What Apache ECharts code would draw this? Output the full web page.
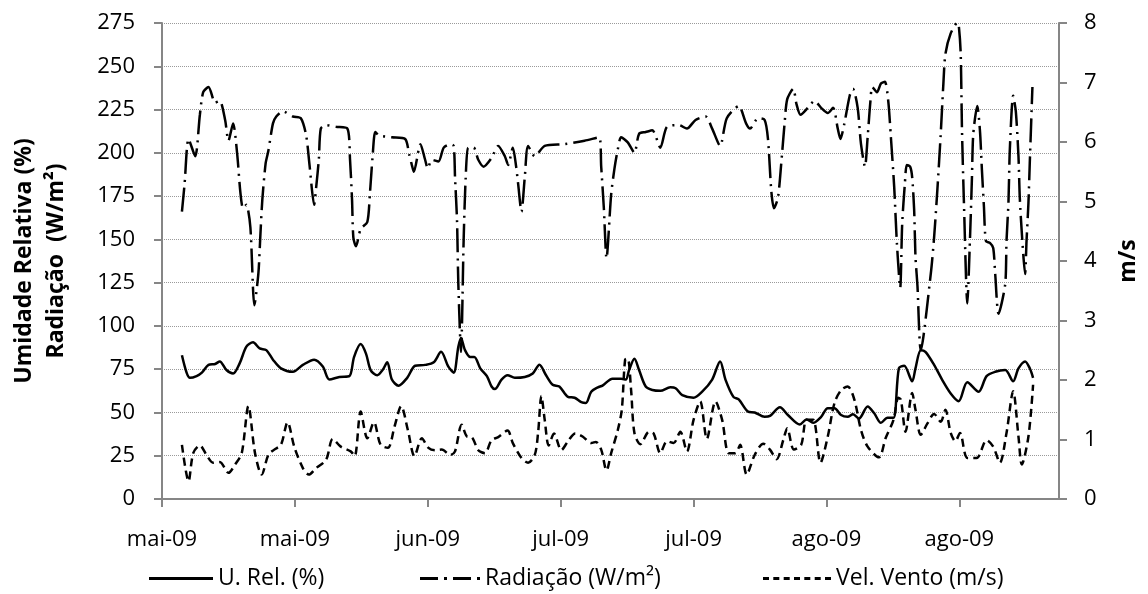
<!DOCTYPE html>
<html>
<head>
<meta charset="utf-8">
<script src="https://cdn.jsdelivr.net/npm/echarts@6/dist/echarts.min.js"></script>
<style>
html,body{margin:0;padding:0;background:#fff;}
#chart{width:1148px;height:594px;}
</style>
</head>
<body>
<div id="chart"></div>
<script>
// x values: days counted from 2 May 2009 (axis start)
const tickDays = [0, 20, 40, 60, 80, 100, 120];
const tickLabels = ['mai-09', 'mai-09', 'jun-09', 'jul-09', 'jul-09', 'ago-09', 'ago-09'];

const rhDays = [3.0,3.7,4.2,5.2,6.0,7.0,8.0,8.7,9.7,10.7,11.7,12.7,13.7,14.7,15.7,16.7,17.9,19.7,21.2,22.9,24.2,25.2,26.7,28.2,28.9,29.9,30.7,31.4,32.4,33.2,33.9,34.6,35.6,36.9,38.1,39.6,40.9,42.0,43.1,43.9,44.6,45.0,45.6,46.4,47.0,47.9,48.9,49.6,50.1,51.1,52.0,53.1,54.6,55.8,56.8,57.8,58.8,59.8,61.1,62.1,63.1,63.8,64.6,65.6,66.3,67.8,69.1,69.8,70.3,71.1,71.8,72.8,73.8,75.0,76.5,77.3,78.3,80.0,81.3,82.8,84.0,84.8,86.0,86.8,88.2,89.2,90.7,91.5,93.0,94.2,96.0,97.0,98.0,99.2,100.2,101.2,102.2,103.2,104.0,104.9,106.2,107.2,108.2,109.2,110.1,110.9,111.7,112.9,113.4,114.2,114.9,116.2,117.4,118.7,119.9,121.2,122.9,124.1,125.4,126.9,128.1,128.9,129.9,130.6,131.1];
const rhValues = [83,73,70,71,73,77.5,78,79.5,74.5,72.5,78.5,88,90.5,87,86,80.5,75.5,73.5,77.5,80.5,76.5,69,70.5,71,82,89.5,84,74.5,71.5,74.5,79,69,65.5,70,77,77.5,79,85,76.5,73,88,93,86,82,82,75.5,71,65,63.5,69,71.5,70,70.5,72.5,77.5,71.5,66,65,59,58.5,56,55.5,62,64.5,65.5,69.5,69.5,69,74.5,81,74.5,65,63,62.5,64.5,64,60,58.5,62,69,79.5,69,59,57.5,50.5,50,47.5,48,53,48.5,43,46,44,47.5,52.5,52.5,48.5,47.5,49,46.5,53.5,49.5,44,47,47,75.5,77,68,75.5,86,85,77.5,69,61,56.5,67.5,62,71,73.5,74.5,68,75.5,79.5,75.5,70];

const radDays = [3.0,3.4,4.0,5.0,5.7,6.2,7.0,8.0,8.7,9.5,10.0,10.7,11.3,11.8,12.2,12.7,13.3,13.9,14.5,14.8,15.1,15.6,16.0,16.7,17.2,18.2,19.7,20.9,21.7,22.2,22.9,23.2,23.6,23.9,24.7,26.2,27.9,28.3,28.6,28.8,29.2,29.9,30.9,31.3,31.7,32.1,32.7,34.6,36.6,37.2,37.6,37.9,38.9,39.6,40.0,40.6,41.6,42.4,43.4,43.9,44.1,44.4,44.6,45.0,45.4,45.7,46.1,46.9,47.6,48.4,49.6,50.6,51.6,52.1,52.8,53.3,53.6,54.1,54.6,55.1,56.1,57.6,60.6,63.6,65.8,66.1,66.5,66.9,67.6,68.1,68.6,69.1,70.1,71.1,71.8,72.8,73.8,75.0,76.0,77.8,79.0,80.3,81.8,82.8,84.0,85.0,86.8,87.9,88.5,89.7,90.7,91.2,91.7,92.1,92.7,93.2,93.7,94.1,95.0,95.5,96.1,97.2,98.2,99.2,100.2,101.0,101.7,102.1,102.7,103.5,104.0,104.7,105.2,105.8,106.2,106.6,106.9,107.6,108.2,108.8,109.3,109.7,110.2,110.6,111.1,111.4,111.8,112.1,112.6,112.9,113.2,113.4,113.7,114.2,115.7,116.2,116.7,117.2,117.6,117.9,118.7,119.7,119.9,120.2,120.4,120.7,121.2,121.6,121.9,122.1,122.7,123.1,123.4,123.7,124.0,124.6,125.1,125.4,125.9,126.9,127.1,127.4,127.6,128.1,128.5,128.9,129.1,129.5,129.9,130.1,130.4,130.6,131.0];
const radValues = [166,182,208,198,222,235,238,229,230,219,207,217,200,177,168,170,157,112,130,152,173,194,201,217,221,224,221,220,210,193,170,180,196,214,216,215,214,196,173,151,146,156,160,177,198,212,210,209,208,199,193,189,205,196,191,196,195,203,205,204,186,161,124,85,150,185,203,203,196,192,197,204,198,193,203,192,182,166,186,204,198,204,205,207,209,192,168,139,176,191,202,209,206,200,211,212,213,203,215,216,214,219,221,214,204,220,227,217,214,220,219,208,178,168,174,194,217,231,237,228,222,226,230,226,223,226,214,208,217,233,237,226,205,192,209,229,238,235,240,241,230,209,180,148,122,159,182,193,192,186,167,140,123,86,130,151,179,211,240,257,269,275,274,258,213,170,113,150,186,211,227,213,190,169,149,148,145,130,107,124,149,172,202,233,224,198,174,148,130,148,171,194,238];

const windDays = [3.0,4.0,4.7,5.7,6.7,7.7,8.7,10.0,11.0,12.0,13.0,14.0,15.0,16.0,16.9,17.9,18.9,19.9,21.2,22.1,23.2,24.7,25.7,26.9,28.4,29.0,29.9,30.9,31.9,32.9,34.0,35.0,36.0,37.0,38.0,39.1,40.1,41.1,42.1,43.4,44.1,45.1,45.9,46.6,47.6,48.6,49.6,50.6,52.0,52.8,54.1,55.1,56.1,56.6,57.1,57.6,58.2,59.0,60.1,61.1,62.2,63.3,64.6,65.3,66.1,66.9,67.6,68.6,69.2,69.7,70.1,70.6,71.1,72.0,73.3,74.0,75.0,76.0,77.0,78.0,79.0,80.0,81.0,82.0,83.3,84.3,85.3,86.3,87.0,88.0,89.2,90.5,91.5,92.5,93.5,94.1,95.1,96.2,97.0,98.0,99.1,100.2,101.2,102.2,103.2,104.2,105.2,106.2,107.9,108.9,110.1,110.8,111.2,111.9,112.9,113.4,114.2,115.2,116.2,117.2,117.9,118.7,119.4,120.1,121.2,122.6,124.1,125.1,126.1,127.1,128.1,128.9,129.4,130.4,131.1];
const windValues = [0.91,0.30,0.77,0.90,0.74,0.61,0.62,0.44,0.58,0.77,1.56,0.77,0.41,0.74,0.83,0.91,1.29,0.88,0.52,0.41,0.52,0.66,1.01,0.88,0.80,0.72,1.47,1.02,1.29,0.91,0.86,1.22,1.56,1.16,0.72,1.02,0.86,0.82,0.83,0.74,0.80,1.25,1.05,1.04,0.82,0.77,0.99,1.04,1.15,0.94,0.69,0.61,0.74,1.11,1.73,1.33,0.90,1.10,0.82,0.97,1.10,1.05,0.94,0.96,0.83,0.48,0.77,1.16,1.50,2.34,2.36,1.83,1.11,0.92,1.13,1.10,0.77,0.97,0.94,1.13,0.80,1.33,1.64,1.01,1.64,1.33,0.77,0.77,0.91,0.41,0.74,0.93,0.83,0.67,0.99,1.19,0.83,0.91,1.33,1.33,0.61,1.05,1.61,1.83,1.89,1.67,1.16,0.88,0.70,1.02,1.33,1.70,1.67,1.13,1.78,1.50,1.08,1.27,1.43,1.30,1.50,1.11,0.97,1.11,0.69,0.69,0.99,0.88,0.61,1.11,1.81,1.05,0.58,1.05,1.92];

const seriesNames = ['U. Rel. (%)', 'Radiação (W/m²)', 'Vel. Vento (m/s)'];

function pairs(xs, ys) { return xs.map((x, i) => [x, ys[i]]); }

// legend sample glyphs (line style swatches), drawn as small filled rectangles, 3 units tall
const iconSolid = 'path://M0,0H64V3H0Z';
const iconDashDot = 'path://M0,0H18V3H0Z M24,0H27V3H24Z M33,0H51V3H33Z M57,0H60V3H57Z';
const iconDashed = 'path://M0,0H6V3H0Z M10.3,0H16.3V3H10.3Z M20.7,0H26.7V3H20.7Z M31,0H37V3H31Z M41.3,0H47.3V3H41.3Z M51.7,0H57.7V3H51.7Z M62,0H68V3H62Z';
const legendIcons = [iconSolid, iconDashDot, iconDashed];
const legendLefts = [144, 415, 758];
const legendWidths = [64, 60, 68];

const FONT = 'Open Sans';
const chart = echarts.init(document.getElementById('chart'), null, {renderer: 'canvas'});

const legends = seriesNames.map((n, i) => ({
  top: 562, left: legendLefts[i],
  itemWidth: legendWidths[i], itemHeight: 3,
  textStyle: {fontFamily: FONT, fontSize: 23, color: '#000'},
  itemStyle: {color: '#000', borderWidth: 0},
  data: [{name: n, icon: legendIcons[i]}]
}));

chart.setOption({
  animation: false,
  backgroundColor: '#ffffff',
  textStyle: {fontFamily: FONT},
  grid: {left: 162, right: 84, top: 23, bottom: 95, containLabel: false},
  legend: legends,
  xAxis: {
    type: 'value', min: 0, max: 135, interval: 20,
    axisLine: {lineStyle: {color: '#868686', width: 2}},
    axisTick: {show: true, length: 8, lineStyle: {color: '#868686', width: 2}, customValues: tickDays},
    axisLabel: {
      customValues: tickDays,
      margin: 30, fontFamily: FONT, fontSize: 22, color: '#000',
      formatter: v => tickLabels[tickDays.indexOf(Math.round(v))] || ''
    },
    splitLine: {show: false}
  },
  yAxis: [{
    type: 'value', min: 0, max: 275, interval: 25,
    name: 'Umidade Relativa (%)\nRadiação  (W/m²)',
    nameLocation: 'middle', nameGap: 90, nameRotate: 90,
    nameTextStyle: {fontFamily: FONT, fontSize: 23, fontWeight: 'bold', color: '#000', lineHeight: 32},
    axisLine: {show: true, lineStyle: {color: '#868686', width: 2}},
    axisTick: {show: true, length: 8, lineStyle: {color: '#868686', width: 2}},
    axisLabel: {margin: 27, fontFamily: FONT, fontSize: 22, color: '#000'},
    splitLine: {show: true, lineStyle: {color: '#9a9a9a', type: 'dotted', width: 1}}
  }, {
    type: 'value', min: 0, max: 8, interval: 1, position: 'right',
    name: 'm/s', nameLocation: 'middle', nameGap: 58, nameRotate: 90,
    nameTextStyle: {fontFamily: FONT, fontSize: 23, fontWeight: 'bold', color: '#000'},
    axisLine: {show: true, lineStyle: {color: '#868686', width: 2}},
    axisTick: {show: true, length: 8, lineStyle: {color: '#868686', width: 2}},
    axisLabel: {margin: 25, fontFamily: FONT, fontSize: 22, color: '#000'},
    splitLine: {show: false}
  }],
  series: [{
    name: seriesNames[0], type: 'line', yAxisIndex: 0,
    data: pairs(rhDays, rhValues), smooth: 0.3, symbol: 'none',
    lineStyle: {color: '#000', width: 2.5, type: 'solid'},
    itemStyle: {color: '#000'}
  }, {
    name: seriesNames[1], type: 'line', yAxisIndex: 0,
    data: pairs(radDays, radValues), smooth: 0.25, symbol: 'none',
    lineStyle: {color: '#000', width: 2.5, type: [24, 6, 2, 6]},
    itemStyle: {color: '#000'}
  }, {
    name: seriesNames[2], type: 'line', yAxisIndex: 1,
    data: pairs(windDays, windValues), smooth: 0.3, symbol: 'none',
    lineStyle: {color: '#000', width: 2.5, type: [8, 5]},
    itemStyle: {color: '#000'}
  }]
});
</script>
</body>
</html>
